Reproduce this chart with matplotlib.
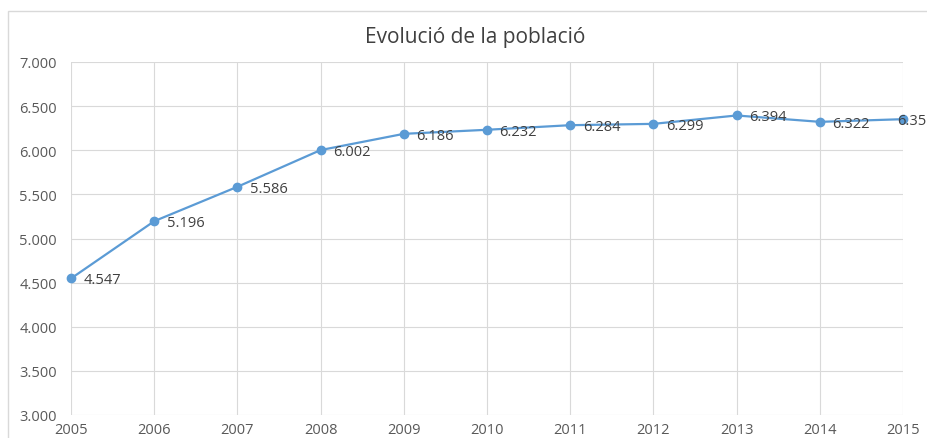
import matplotlib.pyplot as plt
from matplotlib.patches import Rectangle
from matplotlib.ticker import FuncFormatter

years = [2005, 2006, 2007, 2008, 2009, 2010, 2011, 2012, 2013, 2014, 2015]
poblacio = [4547, 5196, 5586, 6002, 6186, 6232, 6284, 6299, 6394, 6322, 6352]

plt.rcParams['font.family'] = ['Open Sans', 'DejaVu Sans']

def fmt(v):
    return f"{v:,.0f}".replace(",", ".")

fig = plt.figure(figsize=(9.28, 4.39), dpi=100)
ax = fig.add_axes([71/928, 23/439, 832/928, 353/439])

# chart frame (extends past the right edge like the original)
fig.patches.append(Rectangle((8/928, -0.05), 1.0, 1 - 12/439 + 0.05,
                             transform=fig.transFigure, fill=False,
                             edgecolor='#d9d9d9', linewidth=1))

ax.plot(years, poblacio, color='#5b9bd5', linewidth=1.6, marker='o',
        markersize=6, clip_on=False, zorder=3)
for i, (x, y) in enumerate(zip(years, poblacio)):
    dx = 9 if i < len(years) - 1 else -4   # last label pushed left, cut at edge
    ax.annotate(fmt(y), (x, y), xytext=(dx, -1), textcoords='offset points',
                va='center', ha='left', fontsize=10.5, color='#404040',
                annotation_clip=False)

ax.set_xlim(2005, 2015)
ax.set_ylim(3000, 7000)
ax.set_xticks(years)
ax.set_yticks(range(3000, 7001, 500))
ax.yaxis.set_major_formatter(FuncFormatter(lambda v, p: fmt(v)))
ax.grid(True, color='#d9d9d9', linewidth=0.8)
ax.set_axisbelow(True)
for s in ax.spines.values():
    s.set_visible(False)
ax.tick_params(length=0, labelsize=10.5, labelcolor='#595959')
ax.tick_params(axis='x', pad=5)
ax.tick_params(axis='y', pad=10)

fig.text(475/928, 1 - 37/439, "Evolució de la població", ha='center',
         va='center', fontsize=15, color='#404040')

fig.savefig("out.png", dpi=100)
